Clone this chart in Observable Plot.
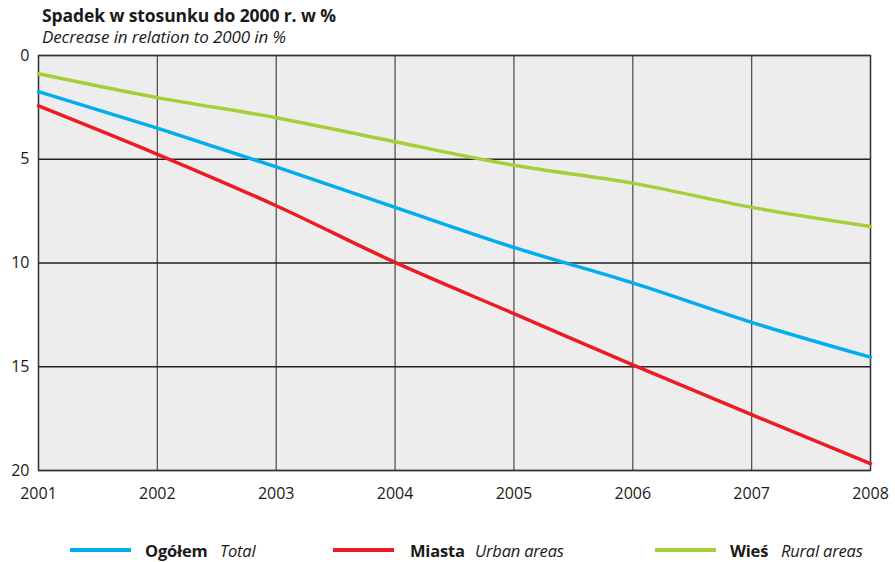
<!DOCTYPE html>
<html><head><meta charset="utf-8">
<script src="https://cdn.jsdelivr.net/npm/d3@7"></script>
<script src="https://cdn.jsdelivr.net/npm/@observablehq/plot@0.6"></script>
<style>
body{margin:0;background:#fff;font-family:"Open Sans",sans-serif;color:#1a1a1a;}
#wrap{position:relative;width:895px;height:562px;}
#t1{position:absolute;left:42px;top:3px;font-weight:bold;font-size:17.5px;letter-spacing:-0.1px;}
#t2{position:absolute;left:42px;top:25px;font-style:italic;font-size:17px;letter-spacing:-0.1px;}
#chart{position:absolute;left:0;top:40px;}
.lg{position:absolute;top:539px;font-size:16.5px;white-space:nowrap;letter-spacing:-0.2px;}
.sw{position:absolute;top:548px;height:4px;width:61px;}
</style></head>
<body><div id="wrap">
<div id="t1">Spadek w stosunku do 2000 r. w %</div>
<div id="t2">Decrease in relation to 2000 in %</div>
<div id="chart"></div>
<div id="legend"></div>
</div>
<script>
const years = [2001, 2002, 2003, 2004, 2005, 2006, 2007, 2008];
const ogolem = [1.74, 3.5, 5.37, 7.32, 9.25, 10.96, 12.86, 14.54];
const miasta = [2.43, 4.76, 7.24, 9.97, 12.44, 14.91, 17.31, 19.67];
const wies = [0.88, 2.03, 3.0, 4.16, 5.29, 6.15, 7.32, 8.24];
const yTicks = [0, 5, 10, 15, 20];
const seriesNames = ["Ogółem", "Miasta", "Wieś"];
const seriesEn = ["Total", "Urban areas", "Rural areas"];
const colors = ["#00aeef", "#ed1c24", "#a6ce39"];

const data = [];
[ogolem, miasta, wies].forEach((arr, i) => arr.forEach((v, j) => data.push({series: seriesNames[i], year: years[j], value: v})));

const plot = Plot.plot({
  width: 895, height: 478,
  marginLeft: 38, marginRight: 25, marginTop: 15, marginBottom: 48,
  style: {fontFamily: "Open Sans, sans-serif", fontSize: "16px", color: "#1a1a1a", background: "transparent"},
  x: {domain: [2001, 2008], label: null},
  y: {domain: [0, 20], reverse: true, label: null},
  color: {domain: seriesNames, range: colors},
  marks: [
    Plot.frame({fill: "#ededed", stroke: null}),
    Plot.ruleX(years, {stroke: "#555", strokeWidth: 1.3}),
    Plot.ruleY(yTicks, {stroke: "#222", strokeWidth: 1.3}),
    Plot.frame({stroke: "#333", strokeWidth: 1.3}),
    Plot.line(data, {x: "year", y: "value", z: "series", stroke: "series", strokeWidth: 3.5, curve: "monotone-x"}),
    Plot.axisX({ticks: years, tickFormat: "d", tickSize: 0, tickPadding: 17, fontSize: 16, label: null}),
    Plot.axisY({ticks: yTicks, tickSize: 0, tickPadding: 9, fontSize: 16, label: null})
  ]
});
document.getElementById("chart").appendChild(plot);

const lg = document.getElementById("legend");
const swX = [70, 333, 655], nX = [145, 410, 730], eX = [220, 475, 781];
seriesNames.forEach((n, i) => {
  const s = document.createElement("div"); s.className = "sw"; s.style.left = swX[i] + "px"; s.style.background = colors[i]; lg.appendChild(s);
  const a = document.createElement("div"); a.className = "lg"; a.style.left = nX[i] + "px"; a.style.fontWeight = "bold"; a.textContent = n; lg.appendChild(a);
  const b = document.createElement("div"); b.className = "lg"; b.style.left = eX[i] + "px"; b.style.fontStyle = "italic"; b.textContent = seriesEn[i]; lg.appendChild(b);
});
</script>
</body></html>
